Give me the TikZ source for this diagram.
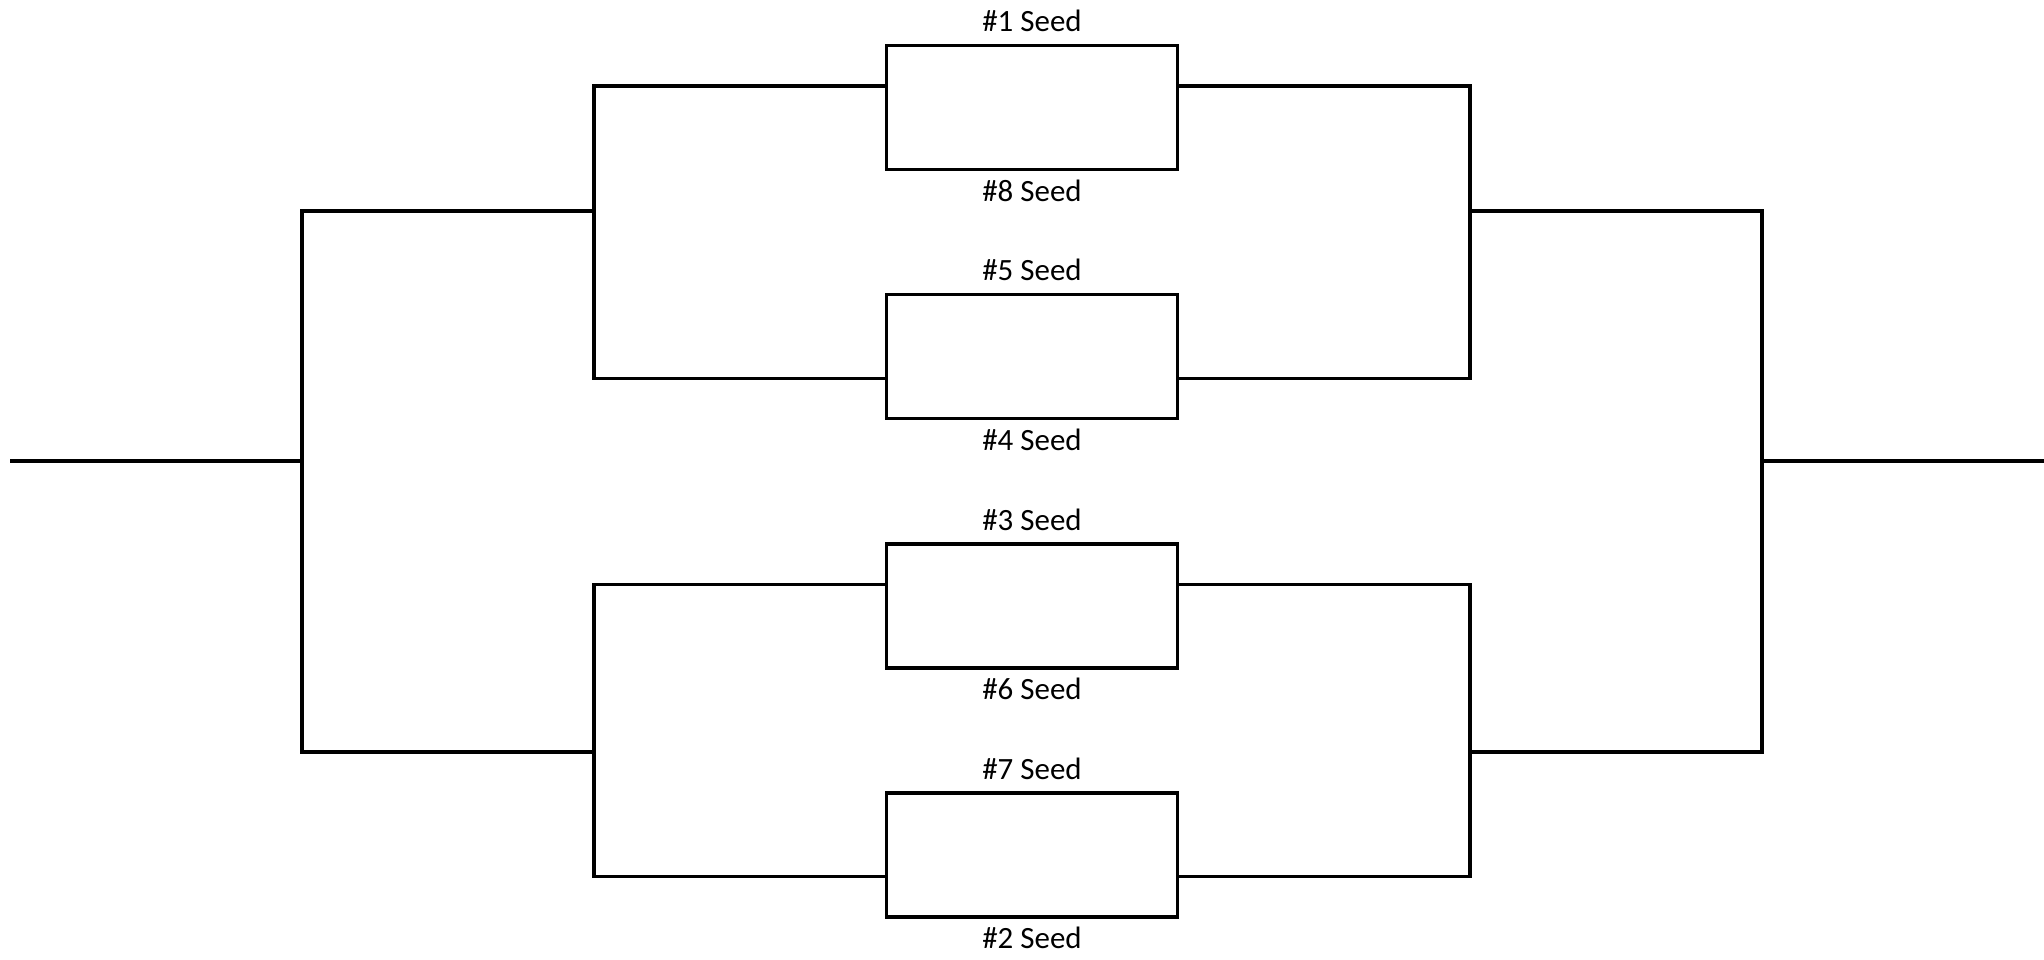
\documentclass[tikz,border=0pt]{standalone}
\usepackage{fontspec}
\setmainfont{Carlito}
\begin{document}
\begin{tikzpicture}[x=0.01cm,y=-0.01cm,
  line width=0.95pt,
  seedbox/.style={draw, rectangle, minimum width=2.91cm, minimum height=1.24cm, inner sep=0pt, outer sep=0pt},
  seedlabel/.style={font=\fontsize{8.8}{10}\selectfont, inner sep=0pt, anchor=base},
  bline/.style={line cap=rect, line join=miter}]
\useasboundingbox (0,0) rectangle (2044,960);
% boxes
\node[seedbox] (b1) at (1032,107.5) {};
\node[seedbox] (b5) at (1032,356.7) {};
\node[seedbox] (b3) at (1032,605.9) {};
\node[seedbox] (b7) at (1032,855.1) {};
% labels
\node[seedlabel] (l1) at ([yshift=0.137cm]b1.north) {\#1 Seed};
\node[seedlabel] (l8) at ([yshift=-0.317cm]b1.south) {\#8 Seed};
\node[seedlabel] (l5) at ([yshift=0.137cm]b5.north) {\#5 Seed};
\node[seedlabel] (l4) at ([yshift=-0.317cm]b5.south) {\#4 Seed};
\node[seedlabel] (l3) at ([yshift=0.137cm]b3.north) {\#3 Seed};
\node[seedlabel] (l6) at ([yshift=-0.317cm]b3.south) {\#6 Seed};
\node[seedlabel] (l7) at ([yshift=0.137cm]b7.north) {\#7 Seed};
\node[seedlabel] (l2) at ([yshift=-0.317cm]b7.south) {\#2 Seed};
% join coordinates
\coordinate (lt) at (594,211);
\coordinate (lb) at (594,752);
\coordinate (rt) at (1470,211);
\coordinate (rb) at (1470,752);
\coordinate (lm) at (302,461);
\coordinate (rm) at (1762,461);
\coordinate (lend) at (10,461);
\coordinate (rend) at (2044,461);
% left brackets
\draw[bline] ([yshift=0.215cm]b1.west) -| (lt) |- ([yshift=-0.215cm]b5.west);
\draw[bline] ([yshift=0.215cm]b3.west) -| (lb) |- ([yshift=-0.215cm]b7.west);
\draw[bline] (lt) -| (lm) |- (lb);
\draw (lm) -- (lend);
% right brackets
\draw[bline] ([yshift=0.215cm]b1.east) -| (rt) |- ([yshift=-0.215cm]b5.east);
\draw[bline] ([yshift=0.215cm]b3.east) -| (rb) |- ([yshift=-0.215cm]b7.east);
\draw[bline] (rt) -| (rm) |- (rb);
\draw (rm) -- (rend);
\end{tikzpicture}
\end{document}
